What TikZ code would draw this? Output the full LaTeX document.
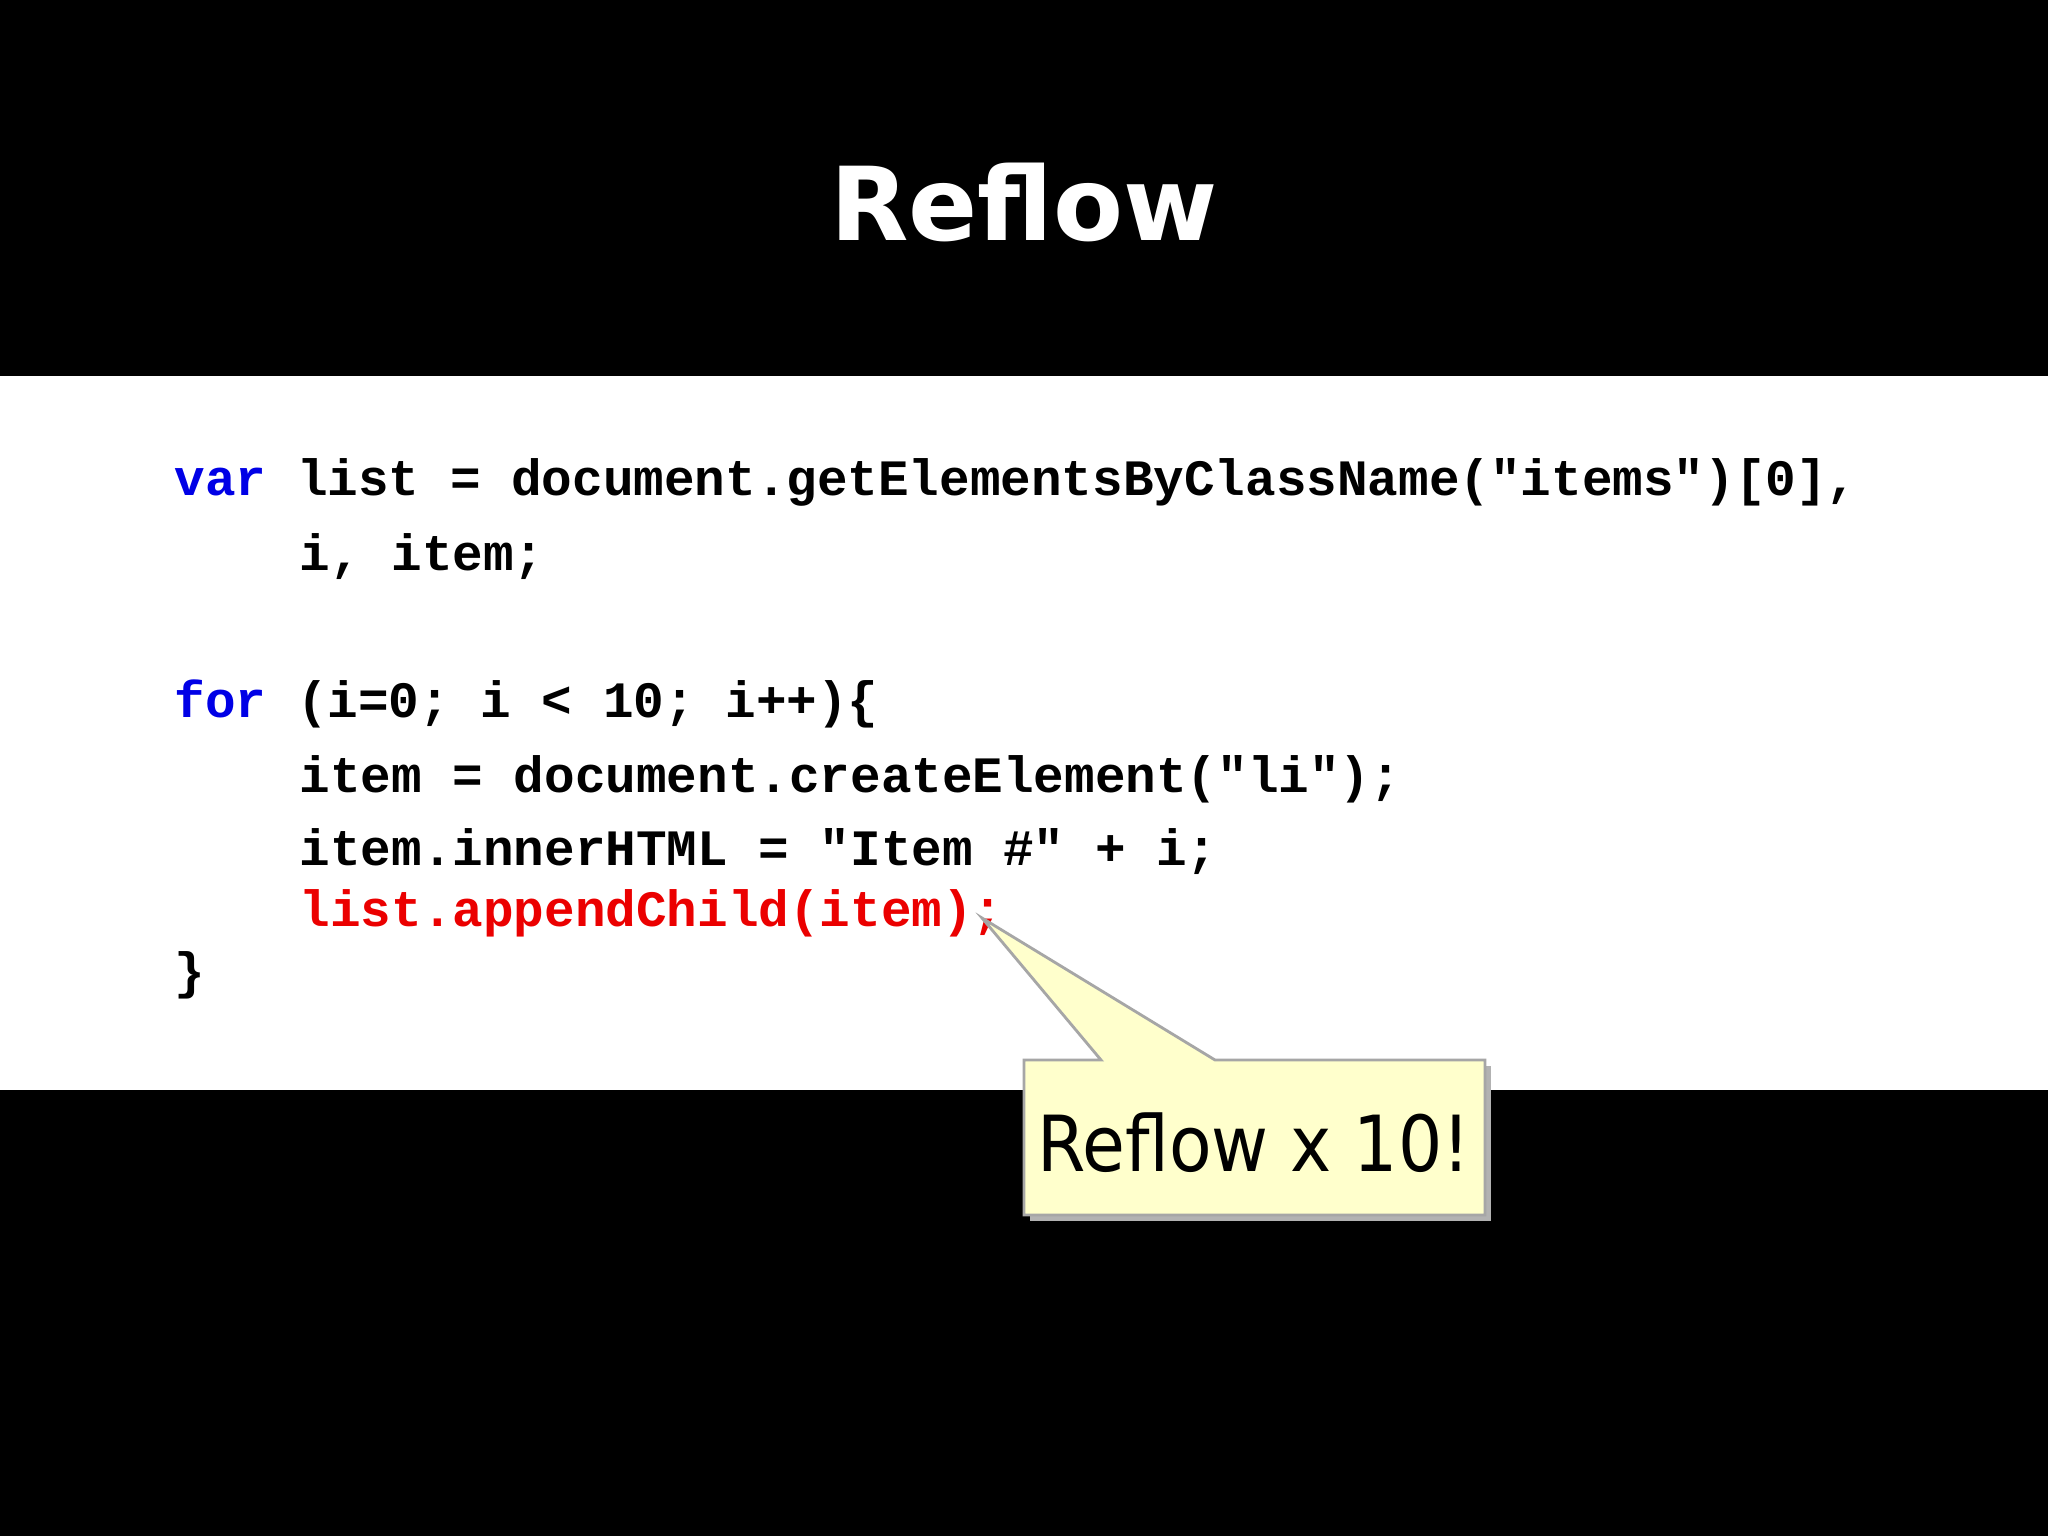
\documentclass[tikz,border=0pt]{standalone}
\usepackage{fontspec}
\setmainfont{DejaVu Sans}
\newfontfamily\codefont{Liberation Mono}
\newfontfamily\callfont{DejaVu Sans Condensed}
\definecolor{kw}{RGB}{0,0,230}
\definecolor{hl}{RGB}{235,0,0}
\definecolor{note}{RGB}{255,255,204}
\begin{document}
\begin{tikzpicture}[x=0.01cm,y=0.01cm,
  code/.style={anchor=base west,inner sep=0pt,font=\codefont\bfseries\fontsize{14.5}{16}\selectfont}]
\fill[black] (0,0) rectangle (2048,1536);
\useasboundingbox (0,0) rectangle (2048,1536);
\fill[white] (0,446) rectangle (2048,1160);
\node[white,font=\bfseries\fontsize{29}{34}\selectfont] (title) at (1024,1334) {Reflow};
\node[code] (l1) at (174,1040) {\textcolor{kw}{var} list = document.getElementsByClassName("items")[0],};
\node[code] (l2) at (299,965) {i, item;};
\node[code] (l3) at (174,818) {\textcolor{kw}{for} (i=0; i < 10; i++)\{};
\node[code] (l4) at (299,743) {item = document.createElement("li");};
\node[code] (l5) at (299,670) {item.innerHTML = "Item \#" + i;};
\node[code,hl] (l6) at (299,609) {list.appendChild(item);};
\node[code] (l7) at (174,547) {\}};
% callout shadow
\fill[gray!60] (1030,315) rectangle (1491,470);
\coordinate (tip) at (982,618);
\draw[gray!70,fill=note,line width=0.8pt] (1024,321) -- (1024,476) -- (1101,476) -- (tip) -- (1215,476) -- (1485,476) -- (1485,321) -- cycle;
\node[font=\callfont\fontsize{22}{26}\selectfont] (note) at (1254,393) {Reflow x 10!};
\end{tikzpicture}
\end{document}
